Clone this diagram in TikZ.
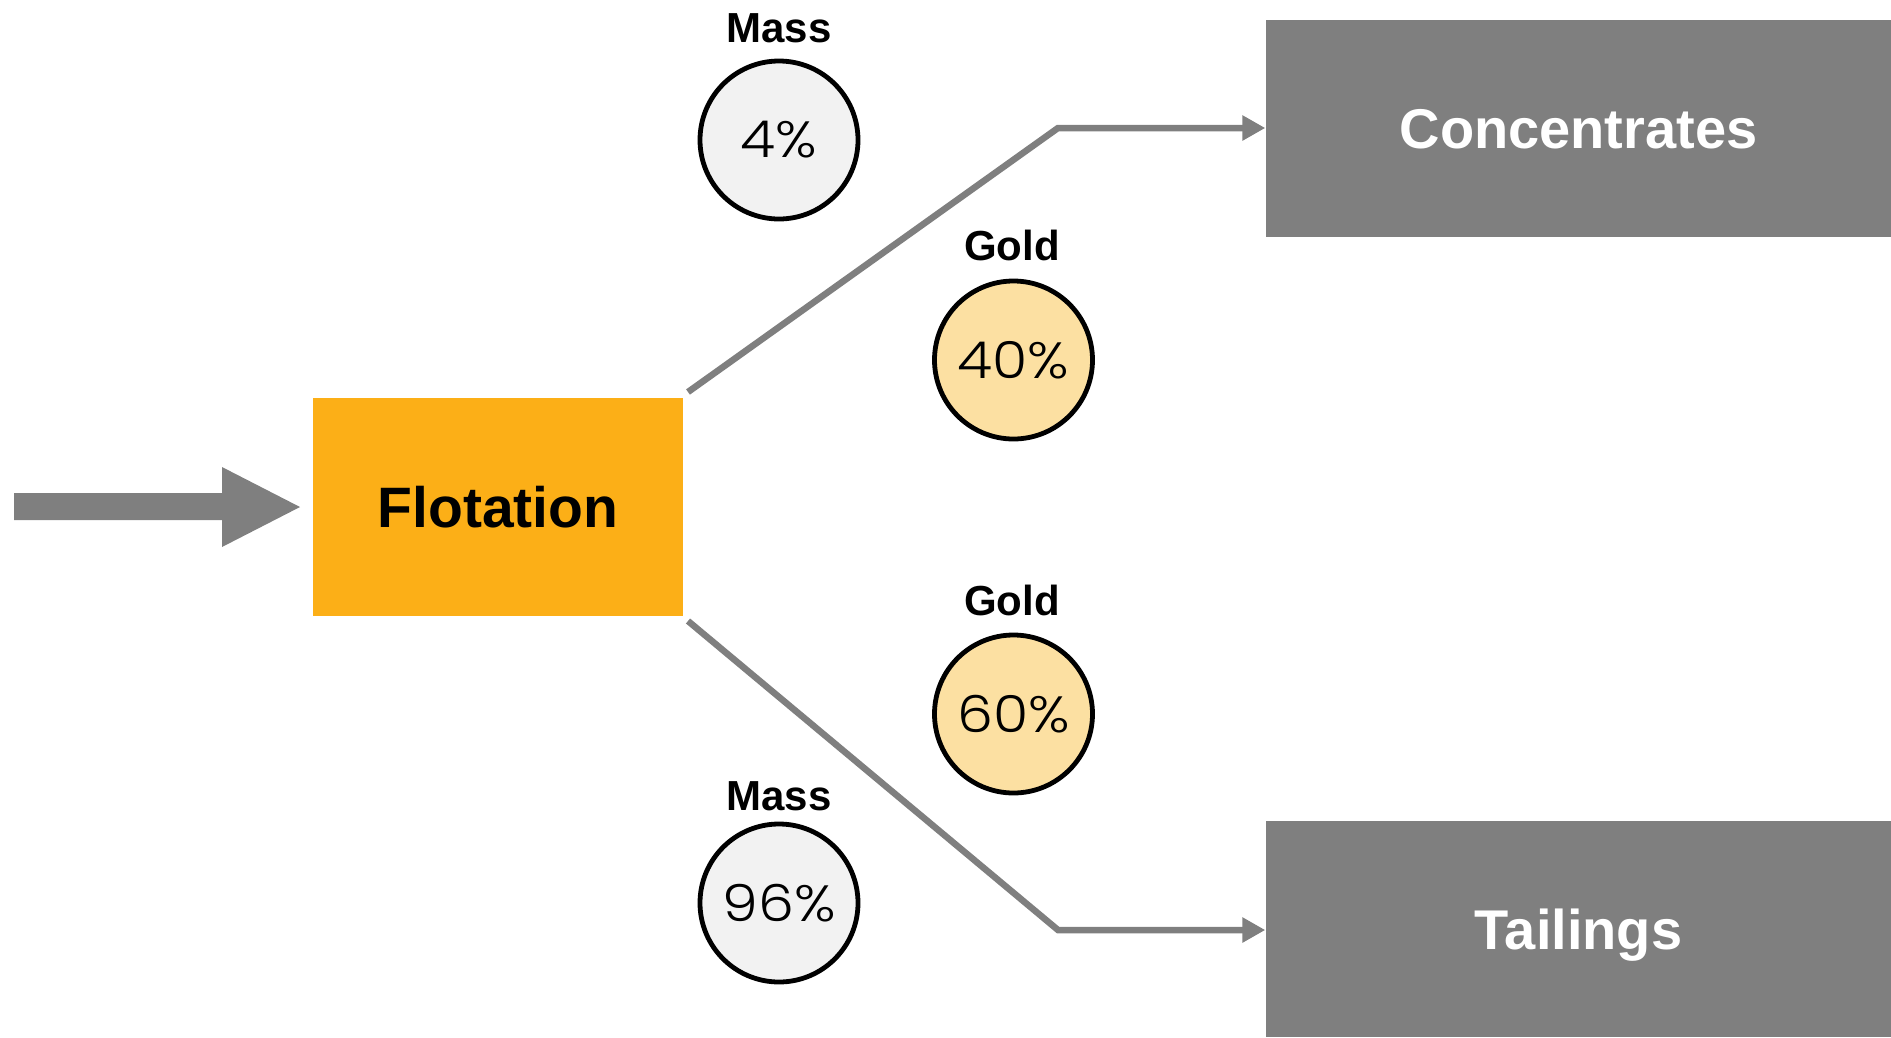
\documentclass[tikz,border=0pt]{standalone}
\usepackage{fontspec}
\setmainfont{Liberation Sans}
\newfontfamily\pctfont{Poppins Light}[FakeStretch=1.12]
\usetikzlibrary{arrows.meta}
\definecolor{flowgray}{HTML}{7F7F7F}
\definecolor{flotorange}{HTML}{FCAF17}
\definecolor{massfill}{HTML}{F2F2F2}
\definecolor{goldfill}{HTML}{FCE0A2}
\tikzset{
  procbox/.style={draw=none, fill=flotorange, minimum width=370pt, minimum height=218pt, inner sep=0pt,
    font=\fontsize{57}{60}\selectfont\bfseries},
  outbox/.style={draw=none, fill=flowgray, minimum width=626pt, inner sep=0pt, text=white,
    text depth=0pt, font=\fontsize{56}{60}\selectfont\bfseries},
  pct/.style={circle, draw=black, line width=4.8pt, minimum size=158pt, inner sep=0pt,
    font=\fontsize{51}{53}\pctfont},
  masspct/.style={pct, fill=massfill},
  goldpct/.style={pct, fill=goldfill},
  ttl/.style={inner sep=0pt, font=\fontsize{42}{44}\selectfont\bfseries},
  flow/.style={draw=flowgray, line width=6.5pt, -{Triangle[length=23pt,width=24pt]}},
}
\begin{document}
\begin{tikzpicture}[x=1pt,y=-1pt]
\useasboundingbox (0,0) rectangle (1891,1037);
% process box
\node[procbox] (flot) at (498,507) {Flotation};
% outputs
\node[outbox, minimum height=217pt] (conc) at (1578.5,128.5) {Concentrates};
\node[outbox, minimum height=216pt] (tail) at (1578.5,929) {Tailings};
% input block arrow
\coordinate (inA) at (14,507);
\fill[flowgray] (inA) ++(0,-14) -- (222,493) -- (222,467) -- (300,507) -- (222,547) -- (222,520) -- (14,520) -- cycle;
% connectors
\coordinate (cstart) at (688,392);
\coordinate (cbend) at (1058,128);
\coordinate (tstart) at (688,621);
\coordinate (tbend) at (1058,930);
\draw[flow] (cstart) -- (cbend) -- (cbend -| conc.west);
\draw[flow] (tstart) -- (tbend) -- (tbend -| tail.west);
% circles
\node[masspct] (m1) at (779,140) {4\%};
\node[ttl] (m1t) at (779,28) {Mass};
\node[goldpct] (g1) at (1013.5,360) {40\%};
\node[ttl] (g1t) at (1012,245) {Gold};
\node[goldpct] (g2) at (1013.5,714) {60\%};
\node[ttl] (g2t) at (1012,600) {Gold};
\node[masspct] (m2) at (779,903) {96\%};
\node[ttl] (m2t) at (779,796) {Mass};
\end{tikzpicture}
\end{document}
